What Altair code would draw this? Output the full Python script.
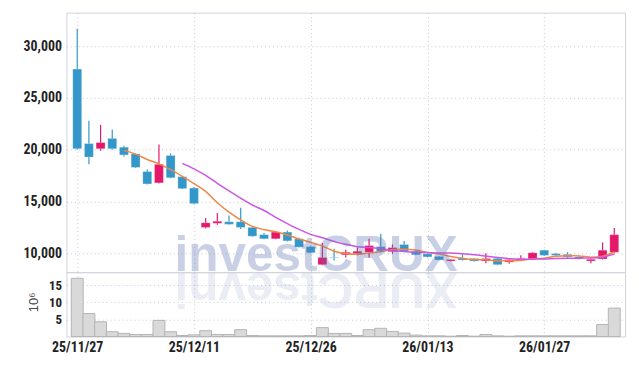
import altair as alt
import pandas as pd

dates = ["25/11/27", "25/11/28", "25/12/01", "25/12/02", "25/12/03", "25/12/04", "25/12/05",
         "25/12/08", "25/12/09", "25/12/10", "25/12/11", "25/12/12", "25/12/15", "25/12/16",
         "25/12/17", "25/12/18", "25/12/19", "25/12/22", "25/12/23", "25/12/24", "25/12/26",
         "25/12/29", "25/12/30", "26/01/02", "26/01/05", "26/01/06", "26/01/07", "26/01/08",
         "26/01/09", "26/01/12", "26/01/13", "26/01/14", "26/01/15", "26/01/16", "26/01/19",
         "26/01/20", "26/01/21", "26/01/22", "26/01/23", "26/01/26", "26/01/27", "26/01/28",
         "26/01/29", "26/01/30", "26/02/02", "26/02/03", "26/02/04"]
opens = [27800, 20600, 20100, 21100, 20250, 19600, 17900, 16800, 19450, 17400, 16300, 12500,
         12900, 13050, 13050, 12500, 11800, 11400, 12050, 11400, 10650, 8900, 9600, 9850,
         9970, 10100, 10650, 10150, 10850, 10200, 9950, 9700, 9250, 9550, 9500, 9250,
         9500, 9150, 9350, 9450, 10300, 9970, 9900, 9650, 9250, 9450, 10100]
highs = [31700, 22800, 22400, 21950, 20400, 19650, 18100, 20500, 19650, 17450, 16400, 13400,
         13900, 13650, 14400, 12600, 11950, 12100, 12200, 11500, 10750, 11000, 10450, 10350,
         10550, 11400, 11900, 10850, 11200, 10250, 10000, 9750, 9450, 9900, 9550, 10000,
         9550, 9450, 9800, 10100, 10350, 10050, 10100, 9700, 9450, 11050, 12450]
lows = [20000, 18600, 19900, 20000, 19350, 18250, 16650, 16750, 17250, 16200, 14750, 12400,
        12750, 12750, 12350, 11600, 11350, 11350, 11150, 10550, 10000, 8850, 9300, 9600,
        9800, 9600, 10100, 9950, 10150, 9800, 9600, 9300, 9200, 9300, 9200, 9050,
        8850, 9000, 9300, 9400, 9750, 9750, 9500, 9400, 9050, 9400, 10000]
closes = [20100, 19300, 20700, 20100, 19500, 18300, 16700, 18600, 17300, 16250, 14800, 12950,
          13100, 12800, 12500, 11650, 11400, 12050, 11200, 10600, 10050, 9600, 9550, 10100,
          10200, 10750, 10200, 10550, 10200, 9850, 9650, 9350, 9400, 9350, 9250, 9500,
          8900, 9400, 9500, 10050, 9800, 9800, 9650, 9450, 9420, 10300, 11800]
volumes = [17.0, 6.7, 4.3, 1.4, 0.9, 0.6, 0.6, 4.7, 1.4, 0.3, 0.5, 1.7, 0.6, 0.6, 2.0, 0.3,
           0.2, 0.2, 0.2, 0.2, 0.3, 2.6, 0.9, 0.9, 0.3, 2.0, 2.4, 1.5, 1.0, 0.4, 0.2, 0.2,
           0.1, 0.3, 0.1, 0.6, 0.2, 0.1, 0.2, 0.2, 0.2, 0.2, 0.2, 0.2, 0.2, 3.5, 8.3]
x_ticks = [0, 10, 20, 30, 40]
price_ticks = [10000, 15000, 20000, 25000, 30000]
vol_ticks = [5, 10, 15]
watermark = "investCRUX"

RED = "#e5176b"
BLUE = "#3398c9"
ORANGE = "#ee8748"
PURPLE = "#cc55e8"
GRID = "#c3c8da"
LABEL_FONT = "Liberation Sans Narrow, Roboto Condensed, Liberation Sans, sans-serif"

df = pd.DataFrame({"i": list(range(len(dates))), "date": dates, "open": opens, "high": highs,
                   "low": lows, "close": closes, "vol": volumes})
df["dir"] = ["up" if c >= o else "down" for o, c in zip(opens, closes)]

label_expr = "[" + ",".join("'%s'" % d for d in dates) + "][datum.value]"
xscale = alt.Scale(domain=[-0.5, len(dates) - 0.5], nice=False, zero=False)
yscale = alt.Scale(domain=[8180, 33250], nice=False, zero=False)
color = alt.Color("dir:N", scale=alt.Scale(domain=["up", "down"], range=[RED, BLUE]), legend=None)

grid_kw = dict(grid=True, gridColor=GRID, gridDash=[1, 3], gridWidth=1, ticks=False, domain=False)

px_axis = alt.Axis(values=x_ticks, labels=False, title=None, minExtent=0, maxExtent=0, **grid_kw)
base = alt.Chart(df).encode(x=alt.X("i:Q", scale=xscale, axis=px_axis))

wick = base.mark_rule(strokeWidth=1.2).encode(
    y=alt.Y("low:Q", scale=yscale,
            axis=alt.Axis(values=price_ticks, format=",.0f", title=None, labelFontSize=14,
                          labelPadding=5, minExtent=46, maxExtent=46, labelFlush=False,
                          **grid_kw)),
    y2="high:Q", color=color)
body = base.mark_bar(size=9, stroke="white", strokeOpacity=0.5, strokeWidth=0.5).encode(
    y="open:Q", y2="close:Q", color=color)

ma5 = base.transform_window(ma="mean(close)", n="count()", frame=[-4, 0],
                            sort=[alt.SortField("i")]).transform_filter("datum.n >= 5").mark_line(
    color=ORANGE, strokeWidth=1.5, interpolate="monotone").encode(y="ma:Q")
ma10 = base.transform_window(ma="mean(close)", n="count()", frame=[-9, 0],
                             sort=[alt.SortField("i")]).transform_filter("datum.n >= 10").mark_line(
    color=PURPLE, strokeWidth=1.5, interpolate="monotone").encode(y="ma:Q")

wm = alt.Chart(pd.DataFrame({"t": [watermark]})).mark_text(
    font="Liberation Sans", fontWeight="bold", fontSize=50, color="#5f74b3", opacity=0.33,
    align="left", baseline="alphabetic").encode(text="t:N", x=alt.value(109), y=alt.value(261))

price = alt.layer(wick, body, ma5, ma10, wm).properties(width=564, height=262)

# reflected watermark (per-letter, rotated)
adv = {"i": 0.278, "n": 0.611, "v": 0.556, "e": 0.556, "s": 0.556, "t": 0.333,
       "C": 0.722, "R": 0.722, "U": 0.722, "X": 0.667}
centers, pos = [], 0.0
for ch in watermark:
    w = adv[ch] * 50
    centers.append(109 + pos + w / 2)
    pos += w
refl_layers = [
    alt.Chart(pd.DataFrame({"t": [ch]})).mark_text(
        font="Liberation Sans", fontWeight="bold", fontSize=50, color="#5f74b3", opacity=0.12,
        align="center", baseline="alphabetic", angle=180).encode(
        text="t:N", x=alt.value(cx), y=alt.value(1))
    for ch, cx in zip(watermark, centers)
]

vol_bars = alt.Chart(df).mark_bar(
    size=12, fill="#d9d9d9", stroke="#b4b4b4", strokeWidth=1).encode(
    x=alt.X("i:Q", scale=xscale,
            axis=alt.Axis(values=x_ticks, labelExpr=label_expr, title=None, labelFontSize=14,
                          labelPadding=4, labelFlush=False, **grid_kw)),
    y=alt.Y("vol:Q", scale=alt.Scale(domain=[0, 18.8], nice=False),
            axis=alt.Axis(values=vol_ticks, title="10⁶", titleFontWeight="normal",
                          titleFont="Liberation Sans", titleFontSize=13, titleColor="#444",
                          titlePadding=8, titleY=30, titleAlign="center",
                          labelFontSize=13, labelPadding=5, labelFlush=False,
                          **grid_kw)))

volume = alt.layer(vol_bars, *refl_layers).properties(width=564, height=65)

chart = alt.vconcat(price, volume, spacing=0, bounds="flush").properties(
    padding={"left": 12, "top": 2, "right": 5, "bottom": 0}
).configure_view(stroke="#cfd2dc", strokeWidth=1).configure_axis(
    labelFont=LABEL_FONT, labelFontWeight="bold", labelColor="#222"
)

chart.save("out.html", embed_options={"renderer": "svg", "actions": False})
